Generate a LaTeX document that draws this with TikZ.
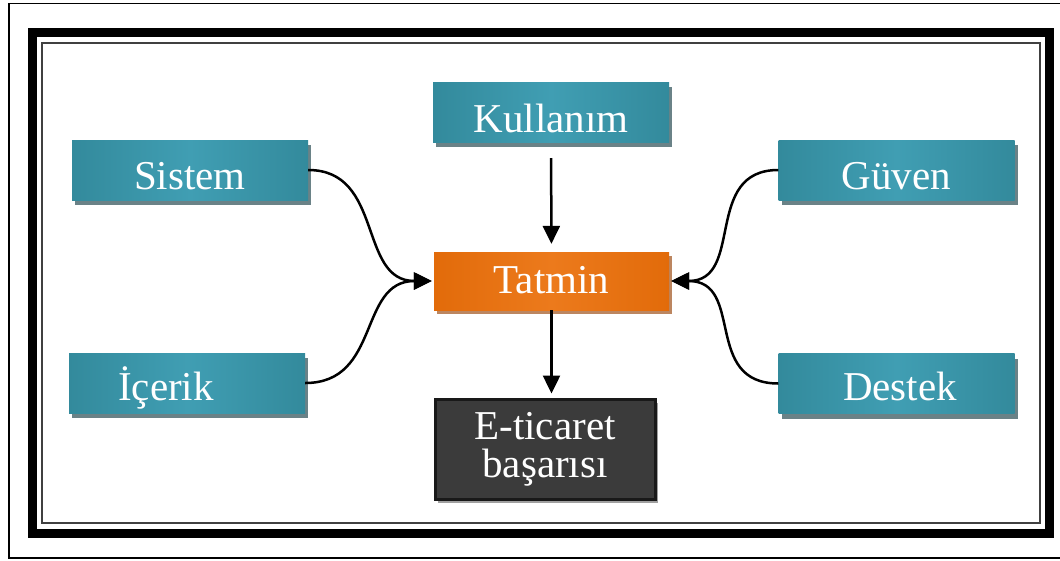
\documentclass[tikz,border=0pt]{standalone}
\usepackage{fontspec}
\setmainfont{Liberation Serif}
\usetikzlibrary{arrows.meta}

\definecolor{tealdark}{HTML}{338A9C}
\definecolor{teallight}{HTML}{409EB3}
\definecolor{tealshadow}{HTML}{6A8287}
\definecolor{orangemain}{HTML}{E26B0A}
\definecolor{orangelight}{HTML}{EC7A1C}
\definecolor{orangeshadow}{HTML}{BC8660}
\definecolor{darkbox}{HTML}{3B3B3B}
\definecolor{darkshadow}{HTML}{A0A0A0}

\tikzset{
  box/.style={rectangle, inner sep=0pt, text=white,
    font=\fontsize{41}{38}\selectfont},
  onetext/.style={text height=28pt, text depth=0pt},
  tealbox/.style={box, onetext, minimum width=236pt, minimum height=60pt,
    left color=tealdark, right color=tealdark, middle color=teallight,
    preaction={fill=tealshadow, transform canvas={xshift=3pt, yshift=-5pt}}},
  orangebox/.style={box, onetext, minimum width=235pt, minimum height=58pt,
    left color=orangemain, right color=orangemain, middle color=orangelight,
    preaction={fill=orangeshadow, transform canvas={xshift=3pt, yshift=-4pt}}},
  darkbox/.style={box, align=center, minimum width=220pt, minimum height=100pt,
    fill=darkbox, draw=black!90, line width=3pt,
    preaction={fill=darkshadow, transform canvas={xshift=3pt, yshift=-4pt}}},
  conn/.style={line width=2.5pt, -{Triangle[length=18pt, width=17pt]}},
}

\begin{document}
\begin{tikzpicture}[x=1pt, y=-1pt]
  \useasboundingbox (0,0) rectangle (1060,560);
  \fill[white] (0,0) rectangle (1060,560);

  % frames
  \draw[line width=1.5pt] (9,3.5) rectangle (1075,558);
  \draw[line width=9pt] (32.5,32.5) rectangle (1049.5,533);
  \draw[line width=2pt, black!75] (42,42.5) rectangle (1039.5,523);

  % boxes
  \node[tealbox] (kul) at (551,112) {\raisebox{-6pt}{Kullanım}};
  \node[tealbox] (sis) at (190,170) {\raisebox{-5pt}{Sistem}};
  \node[tealbox] (guv) at (896.5,170) {\raisebox{-5pt}{Güven}};
  \node[tealbox] (ice) at (187,383) {\raisebox{-3pt}{İçerik}\hspace*{42pt}};
  \node[tealbox] (des) at (896.5,383.5) {\hspace*{7pt}\raisebox{-3pt}{Destek}};
  \node[orangebox] (tat) at (551.5,281) {\raisebox{2pt}{Tatmin}};
  \node[darkbox] (eti) at (545,449) {E-ticaret\\başarısı};

  % connectors
  \draw[conn, shorten <=16pt, shorten >=8pt] (kul.south) -- (tat.north);
  \draw[conn, shorten >=4pt] (tat.south) -- (tat.south |- eti.north);
  \draw[conn, shorten >=2pt] (sis.east) .. controls +(76,0) and +(-76,0) .. (tat.west);
  \draw[conn, shorten >=2pt] (ice.east) .. controls +(76,0) and +(-76,0) .. (tat.west);
  \draw[conn, shorten >=2pt] (guv.west) .. controls +(-76,0) and +(76,0) .. (tat.east);
  \draw[conn, shorten >=2pt] (des.west) .. controls +(-76,0) and +(76,0) .. (tat.east);
\end{tikzpicture}
\end{document}
